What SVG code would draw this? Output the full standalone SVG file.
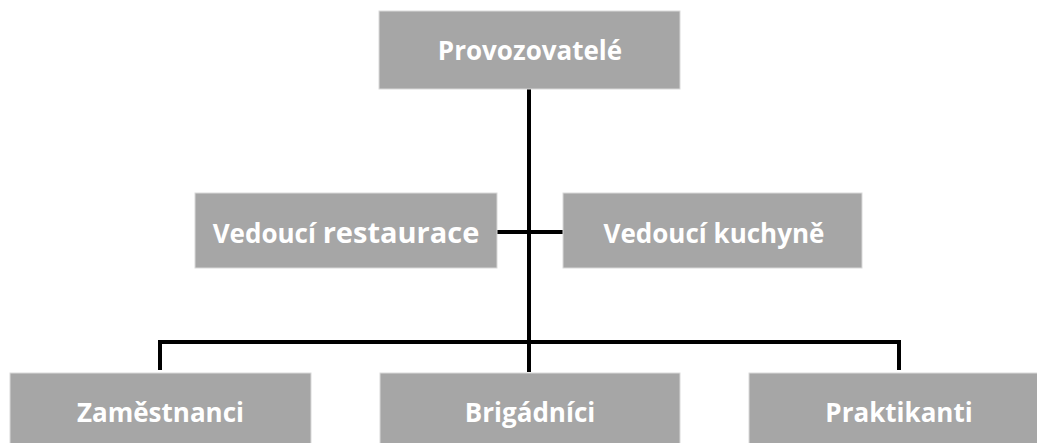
<svg xmlns="http://www.w3.org/2000/svg" width="1037" height="443" viewBox="0 0 1037 443">
<style>
.box{fill:#a6a6a6;stroke:#d9d9d9;stroke-width:1}
.t{fill:#ffffff;font-family:"Open Sans","Liberation Sans",sans-serif;font-weight:bold;font-size:26px;text-anchor:middle}
.c{stroke:#000;stroke-width:4;fill:none}
</style>
<rect width="1037" height="443" fill="#ffffff"/>
<g id="connectors">
<line class="c" x1="529" y1="89" x2="529" y2="372"/>
<line class="c" x1="497" y1="232" x2="563" y2="232"/>
<polyline class="c" points="160,370 160,342 899,342 899,370"/>
</g>
<g id="n-provozovatele">
<rect class="box" x="379" y="11" width="301" height="78"/>
<text class="t" x="530" y="60">Provozovatelé</text>
</g>
<g id="n-vedouci-restaurace">
<rect class="box" x="195" y="193" width="302" height="75"/>
<text class="t" x="346" y="243">Vedoucí <tspan font-size="29">restaurace</tspan></text>
</g>
<g id="n-vedouci-kuchyne">
<rect class="box" x="563" y="193" width="299" height="75"/>
<text class="t" x="714" y="243">Vedoucí kuchyně</text>
</g>
<g id="n-zamestnanci">
<rect class="box" x="10" y="373" width="301" height="75"/>
<text class="t" x="160.5" y="422">Zaměstnanci</text>
</g>
<g id="n-brigadnici">
<rect class="box" x="380" y="373" width="300" height="75"/>
<text class="t" x="530" y="422">Brigádníci</text>
</g>
<g id="n-praktikanti">
<rect class="box" x="749" y="373" width="300" height="75"/>
<text class="t" x="899" y="422">Praktikanti</text>
</g>
</svg>
